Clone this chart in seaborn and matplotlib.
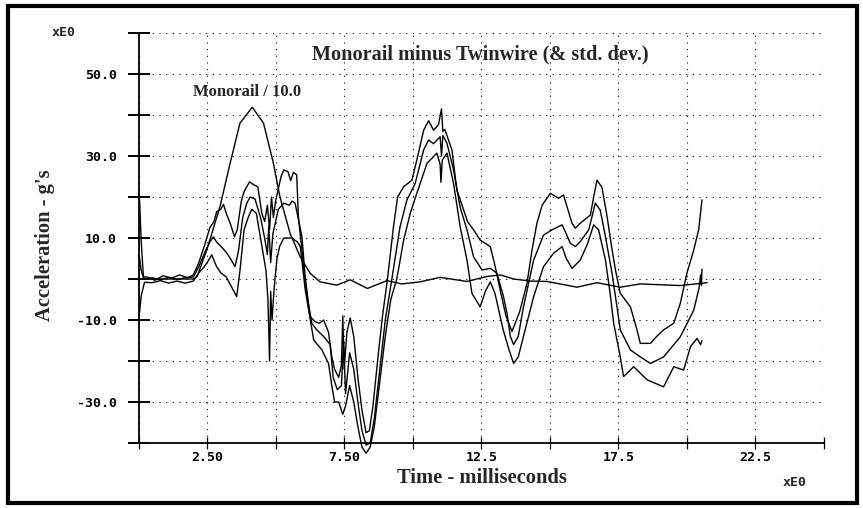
import numpy as np
import matplotlib
matplotlib.use("Agg")
import matplotlib.pyplot as plt
import seaborn as sns
from matplotlib.patches import Rectangle

# ---------------- data ----------------
upper_t = [0.0, 0.04, 0.1, 0.18, 0.3, 0.6, 0.9, 1.2, 1.5, 1.8, 2.0, 2.2, 2.4, 2.6, 2.75, 2.85,
           3.0, 3.1, 3.2, 3.35, 3.5, 3.6, 3.75, 3.85, 4.05, 4.2, 4.35, 4.5, 4.6, 4.7, 4.78,
           4.85, 4.92, 5.0, 5.1, 5.2, 5.3, 5.45, 5.55, 5.65, 5.77, 5.83, 5.96, 6.08, 6.26,
           6.44, 6.6, 6.75, 6.93, 7.05, 7.15, 7.3, 7.4, 7.45, 7.5, 7.6, 7.72, 7.85, 8.0,
           8.15, 8.3, 8.42, 8.55, 8.75, 8.9, 9.08, 9.3, 9.45, 9.67, 9.97, 10.15, 10.4, 10.58,
           10.76, 10.94, 11.05, 11.1, 11.17, 11.43, 11.61, 11.86, 12.0, 12.22, 12.46, 12.83,
           13.01, 13.2, 13.4, 13.62, 13.9, 14.17, 14.35, 14.53, 14.72, 15.02, 15.32, 15.5,
           15.81, 15.93, 16.11, 16.48, 16.6, 16.72, 16.9, 17.09, 17.25, 17.4, 17.57, 17.94,
           18.18, 18.3, 18.67, 18.9, 19.15, 19.52, 19.76, 20.0, 20.25, 20.43, 20.55]
upper_v = [21, 19, 9, 0.5, 0.5, -0.3, 0.8, 0.2, 1, 0.3, 1, 4, 8, 12.5, 14, 16.4,
           17, 18.2, 16, 13.5, 10.3, 12, 19, 21.3, 23.7, 23, 22.5, 16, 14, 18, 12,
           20, 15, 19, 22, 25, 26.6, 26.2, 24, 26, 25.4, 15.2, 7.1, -1.1, -9.2,
           -10.4, -10.8, -10, -13, -19, -22, -24, -21, -9, -22, -13, -9.5, -14, -24,
           -32, -37.5, -37, -31, -18, -9, 0, 12.8, 20, 22.5, 24.1, 29, 36.3, 38.6,
           36.3, 37.6, 41.5, 36, 36.5, 31.5, 21.7, 16.8, 14, 12, 9.5, 7.9,
           3, -3, -9, -12.8, -8, -1, 7, 13.6, 18, 20.9, 19.7, 20.5,
           13.6, 12.4, 13.6, 15.6, 20, 24.1, 22.4, 15.2, 8, 2, -3.5, -6.8,
           -12.4, -15.7, -15.7, -14, -12.4, -10.8, -5.9, 1.4, 7.1, 12, 19.3]

mean_t = [0.0, 0.04, 0.1, 0.2, 0.5, 0.8, 1.1, 1.4, 1.7, 2.0, 2.2, 2.45, 2.6, 2.73, 2.85, 3.0,
          3.2, 3.35, 3.52, 3.65, 3.8, 3.95, 4.07, 4.25, 4.45, 4.6, 4.7, 4.75, 4.82, 4.9, 5.0,
          5.1, 5.3, 5.5, 5.6, 5.71, 5.85, 5.96, 6.08, 6.2, 6.32, 6.5, 6.75, 6.99, 7.1, 7.25,
          7.4, 7.48, 7.55, 7.7, 7.85, 8.0, 8.15, 8.3, 8.45, 8.6, 8.8, 9.0, 9.24, 9.54, 9.79,
          10.09, 10.4, 10.58, 10.76, 11.0, 11.05, 11.1, 11.25, 11.49, 11.73, 11.98, 12.22,
          12.53, 12.83, 13.07, 13.3, 13.44, 13.56, 13.68, 13.85, 14.04, 14.41, 14.77, 15.08,
          15.45, 15.6, 15.75, 15.93, 16.11, 16.42, 16.66, 16.84, 17.03, 17.27, 17.45, 17.57,
          17.94, 18.3, 18.67, 19.15, 19.76, 20.25, 20.45, 20.5, 20.53, 20.55]
mean_v = [6, 5, 2, 0, 0.3, -0.2, 0.4, -0.1, 0.3, 0.5, 3, 7, 9, 10.3, 9, 8,
          6.5, 5, 3, 7, 15, 18.5, 20, 19.5, 15, 10, 6, 13, 4, 11, 14,
          17, 18.5, 18, 19, 18.5, 14, 10.3, 0.5, -6, -10.8, -12.4, -14, -16, -24, -27,
          -26, -15, -28, -18, -22, -30, -37, -40.5, -40, -34, -22, -10, 0, 12.8, 19.3,
          23.3, 31.5, 33.9, 33, 34.7, 30, 35, 33.1, 26.6, 17.5, 12, 5.4,
          2.2, 2.6, 1.4, -4, -8.4, -14, -16, -14, -6.8, 4.6, 10.7, 12,
          13.2, 11, 8.7, 7.9, 9.1, 12, 18.5, 16.8, 10.3, 1.4, -6.8, -12.4,
          -17.3, -19, -20.6, -19, -14.1, -7.6, -2, 1, -1.5, 2.4]

lower_t = [0.0, 0.04, 0.1, 0.22, 0.5, 0.8, 1.1, 1.4, 1.7, 2.0, 2.2, 2.4, 2.55, 2.67, 2.85, 3.0,
           3.2, 3.4, 3.58, 3.7, 3.85, 4.0, 4.13, 4.3, 4.5, 4.65, 4.72, 4.78, 4.82, 4.87, 4.95,
           5.05, 5.15, 5.3, 5.6, 5.8, 5.9, 6.08, 6.39, 6.69, 6.93, 7.05, 7.15, 7.3, 7.45, 7.55,
           7.7, 7.85, 8.0, 8.15, 8.3, 8.45, 8.6, 8.8, 9.0, 9.2, 9.42, 9.67, 9.91, 10.15, 10.52,
           10.88, 11.0, 11.03, 11.08, 11.25, 11.49, 11.73, 11.98, 12.16, 12.46, 12.65, 12.83,
           13.0, 13.3, 13.5, 13.68, 13.85, 14.04, 14.41, 14.77, 15.14, 15.45, 15.6, 15.81,
           16.11, 16.36, 16.6, 16.78, 17.03, 17.2, 17.33, 17.57, 17.69, 18.06, 18.55, 19.15,
           19.52, 19.88, 20.13, 20.37, 20.5, 20.55]
lower_v = [-10, -8, -4, -0.8, -0.9, -0.4, -1, -0.5, -1, -0.5, 1.5, 3, 4.5, 5.9, 3, 1.5,
           0.5, -2, -4.3, 2, 12, 15, 17, 16, 8, 2, -5, -20, -3, -10, -2,
           5, 8, 10, 10, 9, 7.9, -2.6, -14.9, -17.3, -20.6, -26, -30, -30, -33, -31,
           -26, -30, -36, -41, -42.5, -41, -36, -25, -14, -5, 0, 9.5, 16, 20.9, 28.2,
           30.7, 28, 23.6, 29, 30.7, 23.3, 12.8, 4.6, -3.5, -6.8, -3, -0.7,
           -3.5, -12.4, -17, -20.6, -19, -14, -4.3, 3, 6.3, 7.9, 5, 2.6,
           4.6, 8.3, 13.2, 12, 4.6, -3.5, -10.8, -19, -23.8, -21.4, -24.6, -26.3,
           -21.4, -22.2, -16.5, -14.5, -16, -15]

mono_t = [0.2, 1.0, 2.0, 2.13, 2.49, 2.97, 3.34, 3.7, 4.15, 4.56, 4.92, 5.16, 5.53, 5.89,
          6.26, 6.62, 7.23, 7.72, 8.35, 9.06, 9.6, 10.27, 11.0, 11.98, 12.7, 13.2, 13.68,
          14.3, 14.9, 15.99, 16.72, 17.57, 18.3, 19.03, 19.76, 20.74]
mono_v = [0, 0, 0, 0.5, 7.1, 17.6, 28.2, 38, 41.9, 38, 28.2, 20, 11.1, 5.5,
          1.4, -0.7, -1.5, -0.2, -2.3, -0.4, -1.2, -0.7, 0.4, -0.6, 0.6, 1, 0,
          -0.5, -0.6, -2, -0.9, -2, -1.2, -1.4, -1.6, -0.9]

x_ticks = [0, 2.5, 5, 7.5, 10, 12.5, 15, 17.5, 20, 22.5, 25]
x_ticklabels = ["", "2.50", "", "7.50", "", "12.5", "", "17.5", "", "22.5", ""]
y_ticks = [-40, -30, -20, -10, 0, 10, 20, 30, 40, 50, 60]
y_ticklabels = ["", "-30.0", "", "-10.0", "", "10.0", "", "30.0", "", "50.0", ""]

title_text = "Monorail minus Twinwire (& std. dev.)"
mono_label = "Monorail / 10.0"
x_label = "Time - milliseconds"
y_label = "Acceleration - g's"
exp_label = "xE0"

# ---------------- figure ----------------
sns.set_theme(style="ticks")
plt.rcParams['font.family'] = ['DejaVu Sans']

W, H = 863, 508
fig = plt.figure(figsize=(W / 100, H / 100), dpi=100)
fig.patch.set_facecolor("white")
L, R, T, B = 138.5, 824, 33, 443
ax = fig.add_axes([L / W, 1 - B / H, (R - L) / W, (B - T) / H])
ax.set_facecolor("white")

for tt, vv in [(upper_t, upper_v), (mean_t, mean_v), (lower_t, lower_v), (mono_t, mono_v)]:
    sns.lineplot(x=tt, y=vv, ax=ax, color="black", lw=1.0, estimator=None, sort=False)

for ln in ax.get_lines():
    ln.set_clip_on(False)

ax.set_xlim(0, 25)
ax.set_ylim(-40, 60)
ax.set_xticks(x_ticks)
ax.set_yticks(y_ticks)
mono_font = dict(fontfamily="DejaVu Sans Mono", fontweight="bold", fontsize=9.5)
ax.set_xticklabels(x_ticklabels, **mono_font)
ax.set_yticklabels(y_ticklabels, **mono_font)

ax.grid(True, color="black", linestyle=(0, (1, 5)), lw=0.8)
ax.set_axisbelow(True)
for s in ["top", "right"]:
    ax.spines[s].set_visible(False)
for s in ["left", "bottom"]:
    ax.spines[s].set_color("black")
    ax.spines[s].set_linewidth(1.3)

ax.tick_params(axis="y", direction="inout", length=16, width=1.4, pad=7.5, colors="black", left=True)
ax.tick_params(axis="x", direction="inout", length=9, width=0.9, pad=1.5, colors="black", bottom=True)

serif = "Liberation Serif"
ax.set_xlabel(x_label, fontfamily=serif, fontweight="bold", fontsize=14.8)
ax.set_ylabel(y_label, fontfamily=serif, fontweight="bold", fontsize=14.8)
ax.xaxis.label.set_va("center")
ax.yaxis.label.set_va("center")
ax.xaxis.set_label_coords((482 - L) / (R - L), (B - 478) / (B - T))
ax.yaxis.set_label_coords((45 - L) / (R - L), (B - 245) / (B - T))

ax.text((480 - L) / (R - L), (B - 54) / (B - T), title_text, transform=ax.transAxes,
        ha="center", va="center", fontfamily=serif, fontweight="bold", fontsize=14.6)
ax.text((247 - L) / (R - L), (B - 92) / (B - T), mono_label, transform=ax.transAxes,
        ha="center", va="center", fontfamily=serif, fontweight="bold", fontsize=12)

fig.text(64 / W, 1 - 33 / H, exp_label, ha="center", va="center", **mono_font)
fig.text(795 / W, 1 - 483 / H, exp_label, ha="center", va="center", **mono_font)

fig.patches.append(Rectangle((8 / W, 1 - 503 / H), (857 - 8) / W, (503 - 5.5) / H,
                             transform=fig.transFigure, fill=False, lw=3, ec="black"))

fig.savefig("out.png", dpi=100, facecolor="white")
